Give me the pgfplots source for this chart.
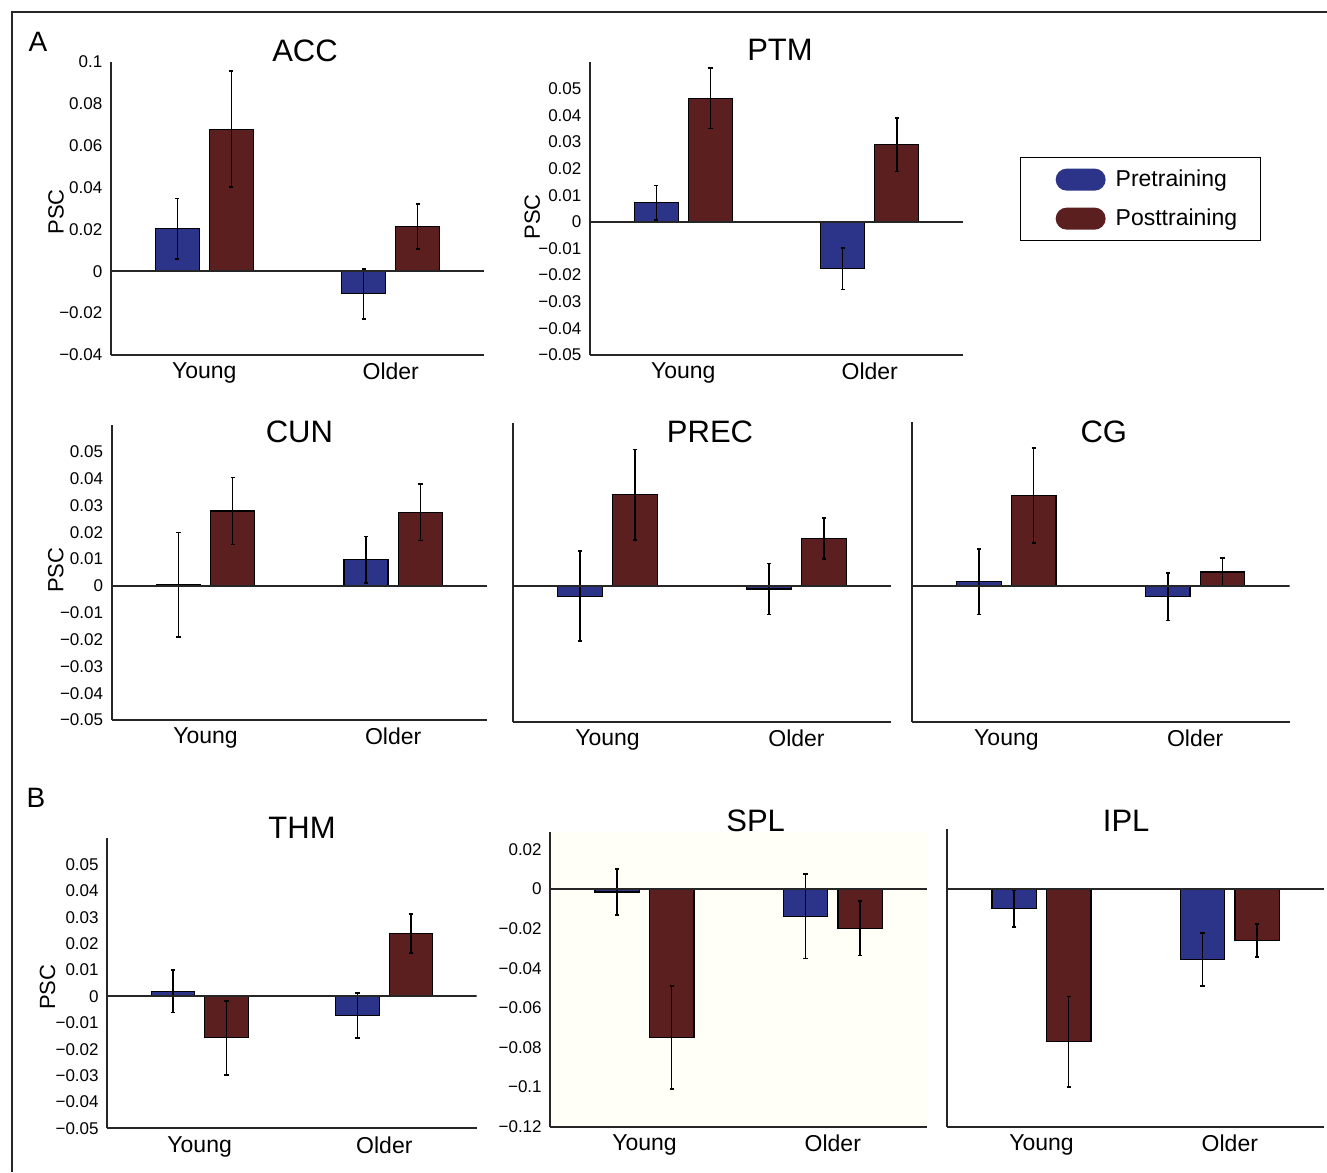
\documentclass[border=0pt]{standalone}
\usepackage{fontspec}
\setmainfont{Liberation Sans}
\usepackage{pgfplots}
\pgfplotsset{compat=1.18}

\definecolor{pre}{RGB}{44,52,137}
\definecolor{post}{RGB}{92,31,31}
\definecolor{cream}{RGB}{255,255,248}

% 1 px of the reference = 0.5pt
\pgfplotsset{
  panel/.style={
    scale only axis,
    axis lines=left,
    axis line style={-, line width=1pt, black!85},
    xmin=0.5, xmax=2.5, enlargelimits=false,
    scaled y ticks=false,
    xtick={1,2}, xticklabels={Young,Older},
    major tick length=0pt,
    xticklabel style={font=\fontsize{11.5}{13}\selectfont, yshift=-0.5pt},
    yticklabel style={font=\fontsize{8.5}{10}\selectfont, xshift=-0.8pt},
    every axis title/.style={at={(0.5,1)}, anchor=base, font=\fontsize{15.5}{18}\selectfont},
    ylabel style={font=\fontsize{11}{13}\selectfont, anchor=center},
  },
  bars/.style={ybar, bar width=0.235, bar shift=0pt, draw=black, line width=0.6pt,
    error bars/y dir=both, error bars/y explicit,
    error bars/error bar style={line width=0.7pt, black},
    error bars/error mark options={black, line width=0.9pt, mark size=1.1pt, rotate=90}},
  tick5/.style={ytick={-0.05,-0.04,-0.03,-0.02,-0.01,0,0.01,0.02,0.03,0.04,0.05},
    yticklabels={−0.05,−0.04,−0.03,−0.02,−0.01,0,0.01,0.02,0.03,0.04,0.05}},
}

\newcommand{\zeroline}{\addplot[black!85, line width=1pt, forget plot] coordinates {(0.5,0) (2.5,0)};}

\begin{document}
\begin{tikzpicture}
\path[use as bounding box] (0,0) rectangle (663.5pt,586pt);
\draw[line width=1pt, black!85] (663.5pt,580pt) -- (5.75pt,580pt) -- (5.75pt,0pt);
\node[anchor=base, font=\fontsize{14}{16}\selectfont] at (19pt,560pt) {A};
\node[anchor=base, font=\fontsize{14}{16}\selectfont] at (18pt,182pt) {B};

% ACC
\begin{axis}[panel, at={(55.5pt,408.5pt)}, anchor=south west, width=186.5pt, height=146.5pt,
  ymin=-0.04, ymax=0.1,
  ytick={-0.04,-0.02,0,0.02,0.04,0.06,0.08,0.1},
  yticklabels={−0.04,−0.02,0,0.02,0.04,0.06,0.08,0.1},
  title={ACC}, title style={xshift=3.75pt},
  ylabel={PSC}, ylabel style={at={(axis description cs:-0.147,0.488)}}]
\addplot[bars, fill=pre] coordinates {(0.855,0.0203) +- (0,0.0145) (1.855,-0.0108) +- (0,0.0119)};
\addplot[bars, fill=post] coordinates {(1.145,0.0679) +- (0,0.0277) (2.145,0.0214) +- (0,0.0107)};
\zeroline
\end{axis}

% PTM
\begin{axis}[panel, at={(295pt,408.5pt)}, anchor=south west, width=186.5pt, height=146.5pt,
  ymin=-0.05, ymax=0.06, tick5,
  title={PTM}, title style={xshift=1.75pt, yshift=0.5pt},
  ylabel={PSC}, ylabel style={at={(axis description cs:-0.155,0.471)}},
  legend style={at={(axis description cs:1.1515,0.6758)}, anchor=north west, draw=black,
    line width=0.65pt, inner xsep=11.75pt, inner ysep=5.5pt, row sep=8.5pt,
    font=\fontsize{11.5}{13}\selectfont, nodes={inner sep=0pt},
    /tikz/every odd column/.append style={column sep=5pt}},
  legend cell align=left,
  legend image code/.code={\path[draw=none, fill=none] (0pt,-5.5pt) rectangle (31pt,5.5pt);
    \fill[#1, draw=none, rounded corners=5.5pt] (6pt,-5.5pt) rectangle (31pt,5.5pt);}]
\addlegendimage{fill=pre}
\addlegendentry{Pretraining}
\addlegendimage{fill=post}
\addlegendentry{Posttraining}
\addplot[bars, fill=pre] coordinates {(0.855,0.0071) +- (0,0.0065) (1.855,-0.0176) +- (0,0.0078)};
\addplot[bars, fill=post] coordinates {(1.145,0.0464) +- (0,0.0114) (2.145,0.0289) +- (0,0.0100)};
\zeroline
\end{axis}

% CUN
\begin{axis}[panel, at={(55.85pt,226pt)}, anchor=south west, width=187.65pt, height=147.5pt,
  ymin=-0.05, ymax=0.06, tick5,
  title={CUN}, title style={yshift=-9pt},
  ylabel={PSC}, ylabel style={at={(axis description cs:-0.149,0.508)}}]
\addplot[bars, fill=pre] coordinates {(0.855,0.0004) +- (0,0.0195) (1.855,0.0097) +- (0,0.0087)};
\addplot[bars, fill=post] coordinates {(1.145,0.0279) +- (0,0.0125) (2.145,0.0274) +- (0,0.0105)};
\zeroline
\end{axis}

% PREC
\begin{axis}[panel, at={(256.5pt,225.15pt)}, anchor=south west, width=189pt, height=149.5pt,
  ymin=-0.05, ymax=0.06, ytick=\empty,
  title={PREC}, title style={xshift=4pt, yshift=-10.15pt}]
\addplot[bars, fill=pre] coordinates {(0.855,-0.0038) +- (0,0.0166) (1.855,-0.0012) +- (0,0.0094)};
\addplot[bars, fill=post] coordinates {(1.145,0.0335) +- (0,0.0166) (2.145,0.0174) +- (0,0.0076)};
\zeroline
\end{axis}

% CG
\begin{axis}[panel, at={(456pt,225pt)}, anchor=south west, width=188.8pt, height=149.75pt,
  ymin=-0.05, ymax=0.06, ytick=\empty,
  title={CG}, title style={xshift=1.5pt, yshift=-10.15pt}]
\addplot[bars, fill=pre] coordinates {(0.855,0.0015) +- (0,0.0120) (1.855,-0.0040) +- (0,0.0087)};
\addplot[bars, fill=post] coordinates {(1.145,0.0332) +- (0,0.0175) (2.145,0.0051) +- (0,0.0052)};
\zeroline
\end{axis}

% THM
\begin{axis}[panel, at={(53.65pt,21.85pt)}, anchor=south west, width=184.7pt, height=145pt,
  ymin=-0.05, ymax=0.06, tick5,
  title={THM}, title style={xshift=5pt},
  ylabel={PSC}, ylabel style={at={(axis description cs:-0.162,0.487)}}]
\addplot[bars, fill=pre] coordinates {(0.855,0.0019) +- (0,0.0080) (1.855,-0.0073) +- (0,0.0085)};
\addplot[bars, fill=post] coordinates {(1.145,-0.0157) +- (0,0.0140) (2.145,0.0239) +- (0,0.0075)};
\zeroline
\end{axis}

% SPL
\begin{axis}[panel, at={(275.15pt,22.65pt)}, anchor=south west, width=188.35pt, height=147.5pt,
  ymin=-0.12, ymax=0.029,
  axis background/.style={fill=cream},
  ytick={-0.12,-0.1,-0.08,-0.06,-0.04,-0.02,0,0.02},
  yticklabels={−0.12,−0.1,−0.08,−0.06,−0.04,−0.02,0,0.02},
  title={SPL}, title style={xshift=8.5pt}]
\addplot[bars, fill=pre] coordinates {(0.855,-0.0015) +- (0,0.0115) (1.855,-0.0137) +- (0,0.0213)};
\addplot[bars, fill=post] coordinates {(1.145,-0.0750) +- (0,0.0260) (2.145,-0.0198) +- (0,0.0137)};
\zeroline
\end{axis}

% IPL
\begin{axis}[panel, at={(473.65pt,22.65pt)}, anchor=south west, width=188.35pt, height=148.85pt,
  ymin=-0.12, ymax=0.03, ytick=\empty,
  title={IPL}, title style={xshift=-4.75pt, yshift=-1.35pt}]
\addplot[bars, fill=pre] coordinates {(0.855,-0.0100) +- (0,0.0094) (1.855,-0.0357) +- (0,0.0134)};
\addplot[bars, fill=post] coordinates {(1.145,-0.0772) +- (0,0.0228) (2.145,-0.0261) +- (0,0.0084)};
\zeroline
\end{axis}
\end{tikzpicture}
\end{document}
